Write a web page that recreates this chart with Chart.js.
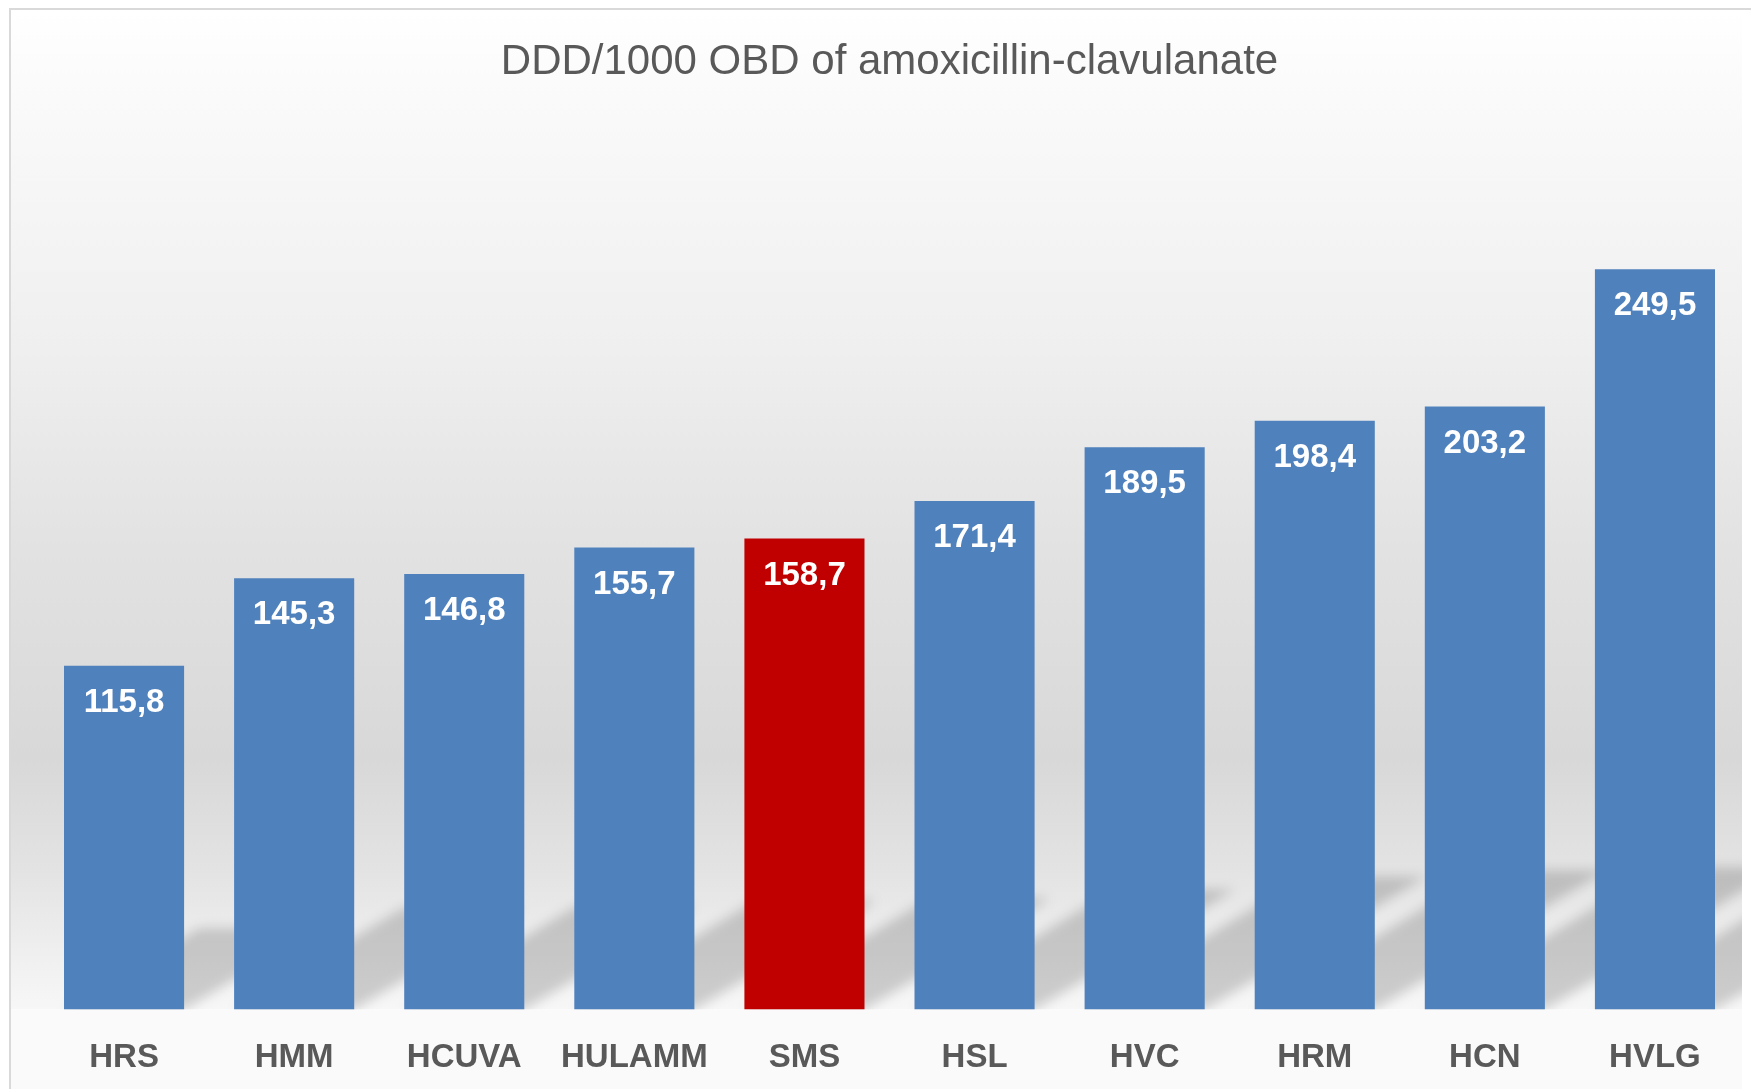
<!DOCTYPE html>
<html>
<head>
<meta charset="utf-8">
<title>DDD/1000 OBD of amoxicillin-clavulanate</title>
<script src="https://cdn.jsdelivr.net/npm/chart.js@4.4.1/dist/chart.umd.min.js"></script>
<style>
  html, body { margin: 0; padding: 0; background: #ffffff; }
  #wrap { position: relative; width: 1751px; height: 1089px; }
</style>
</head>
<body>
<div id="wrap"><canvas id="amoxChart"></canvas></div>
<script>
// ── data ────────────────────────────────────────────────
const chartTitle = 'DDD/1000 OBD of amoxicillin-clavulanate';
const hospitals = ['HRS', 'HMM', 'HCUVA', 'HULAMM', 'SMS', 'HSL', 'HVC', 'HRM', 'HCN', 'HVLG'];
const dddValues = [115.8, 145.3, 146.8, 155.7, 158.7, 171.4, 189.5, 198.4, 203.2, 249.5];
const highlighted = ['SMS'];

// ── look ────────────────────────────────────────────────
const BLUE = '#4F81BD';
const RED = '#C00000';
const TEXT_GREY = '#595959';
const FONT = "'Liberation Sans', Arial, sans-serif";

const barColors = hospitals.map(h => highlighted.includes(h) ? RED : BLUE);

// frame of the chart box (border on left and top, white strip on the right)
const FRAME = { left: 10, top: 9, right: 1742 };

// A) grey gradient backdrop + frame lines
const backdrop = {
  id: 'backdrop',
  beforeDraw(chart) {
    const { ctx, width, height, chartArea } = chart;
    const base = chartArea.bottom;
    ctx.save();
    ctx.fillStyle = '#ffffff';
    ctx.fillRect(0, 0, width, height);

    const g = ctx.createLinearGradient(0, FRAME.top, 0, base);
    g.addColorStop(0.00, '#ffffff');
    g.addColorStop(0.09, '#fafafa');
    g.addColorStop(0.34, '#efefef');
    g.addColorStop(0.54, '#e2e2e2');
    g.addColorStop(0.75, '#d8d8d8');
    g.addColorStop(0.86, '#e3e3e3');
    g.addColorStop(0.95, '#f0f0f0');
    g.addColorStop(1.00, '#f7f7f7');
    ctx.fillStyle = g;
    ctx.fillRect(FRAME.left, FRAME.top, FRAME.right - FRAME.left, base - FRAME.top);
    ctx.fillStyle = '#fafafa';
    ctx.fillRect(FRAME.left, base, FRAME.right - FRAME.left, height - base);

    ctx.strokeStyle = '#d9d9d9';
    ctx.lineWidth = 2;
    ctx.beginPath();
    ctx.moveTo(FRAME.left, height);
    ctx.lineTo(FRAME.left, FRAME.top);
    ctx.lineTo(width, FRAME.top);
    ctx.stroke();
    ctx.restore();
  }
};

// B) slanted perspective shadows behind each bar
const barShadows = {
  id: 'barShadows',
  beforeDatasetsDraw(chart) {
    const { ctx, chartArea } = chart;
    const meta = chart.getDatasetMeta(0);
    ctx.save();
    ctx.beginPath();
    ctx.rect(FRAME.left + 1, chartArea.top, FRAME.right - FRAME.left - 1, chartArea.bottom - chartArea.top);
    ctx.clip();
    ctx.filter = 'blur(6px)';
    ctx.fillStyle = 'rgba(0,0,0,0.17)';
    ctx.beginPath();
    meta.data.forEach(bar => {
      const { x, y, base, width } = bar.getProps(['x', 'y', 'base', 'width'], true);
      const rise = (base - y) * 0.236;
      const run = rise / 0.6;
      const l = x - width / 2, r = x + width / 2;
      ctx.moveTo(l, base);
      ctx.lineTo(r, base);
      ctx.lineTo(r + run, base - rise);
      ctx.lineTo(l + run, base - rise);
      ctx.closePath();
    });
    ctx.fill();
    ctx.restore();
  }
};

// C) value labels inside the top of each bar
const valueLabels = {
  id: 'valueLabels',
  afterDatasetsDraw(chart) {
    const { ctx } = chart;
    const meta = chart.getDatasetMeta(0);
    ctx.save();
    ctx.fillStyle = '#ffffff';
    ctx.font = 'bold 33px ' + FONT;
    ctx.textAlign = 'center';
    ctx.textBaseline = 'middle';
    meta.data.forEach((bar, i) => {
      const { x, y } = bar.getProps(['x', 'y'], true);
      ctx.fillText(dddValues[i].toFixed(1).replace('.', ','), x, y + 37);
    });
    ctx.restore();
  }
};

new Chart(document.getElementById('amoxChart'), {
  type: 'bar',
  data: {
    labels: hospitals,
    datasets: [{
      data: dddValues,
      backgroundColor: barColors,
      borderWidth: 0,
      barPercentage: 0.706,
      categoryPercentage: 1.0
    }]
  },
  options: {
    responsive: true,
    maintainAspectRatio: false,
    animation: false,
    layout: { padding: { top: 9, left: 39, right: 11, bottom: -18 } },
    plugins: {
      legend: { display: false },
      tooltip: { enabled: false },
      title: {
        display: true,
        text: chartTitle,
        color: TEXT_GREY,
        font: { family: FONT, size: 42, weight: 'normal' },
        padding: { top: 28, bottom: 32 }
      }
    },
    scales: {
      x: {
        grid: { display: false, drawTicks: false },
        border: { display: false },
        ticks: {
          color: TEXT_GREY,
          font: { family: FONT, size: 33, weight: 'bold' },
          padding: 29,
          autoSkip: false,
          maxRotation: 0
        }
      },
      y: { display: false, min: 0, max: 300 }
    }
  },
  plugins: [backdrop, barShadows, valueLabels]
});
</script>
</body>
</html>
